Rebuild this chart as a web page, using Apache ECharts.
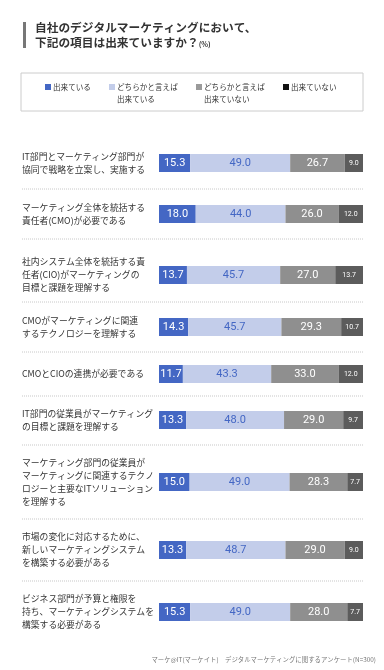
<!DOCTYPE html>
<html>
<head>
<meta charset="utf-8">
<style>
html, body { margin: 0; padding: 0; background: #fff; }
#chart { width: 384px; height: 670px; }
</style>
<script src="https://cdn.jsdelivr.net/npm/echarts@6/dist/echarts.min.js"></script>
</head>
<body>
<div id="chart"></div>
<script type="text/javascript">
// categories (row labels, top to bottom)
var categories = [
  'IT部門とマーケティング部門が\n協同で戦略を立案し、実施する',
  'マーケティング全体を統括する\n責任者(CMO)が必要である',
  '社内システム全体を統括する責\n任者(CIO)がマーケティングの\n目標と課題を理解する',
  'CMOがマーケティングに関連\nするテクノロジーを理解する',
  'CMOとCIOの連携が必要である',
  'IT部門の従業員がマーケティング\nの目標と課題を理解する',
  'マーケティング部門の従業員が\nマーケティングに関連するテクノ\nロジーと主要なITソリューション\nを理解する',
  '市場の変化に対応するために、\n新しいマーケティングシステム\nを構築する必要がある',
  'ビジネス部門が予算と権限を\n持ち、マーケティングシステムを\n構築する必要がある'
];
var seriesNames = ['出来ている', 'どちらかと言えば\n出来ている', 'どちらかと言えば\n出来ていない', '出来ていない'];
var done       = [15.3, 18.0, 13.7, 14.3, 11.7, 13.3, 15.0, 13.3, 15.3];
var ratherDone = [49.0, 44.0, 45.7, 45.7, 43.3, 48.0, 49.0, 48.7, 49.0];
var ratherNot  = [26.7, 26.0, 27.0, 29.3, 33.0, 29.0, 28.3, 29.0, 28.0];
var notDone    = [9.0, 12.0, 13.7, 10.7, 12.0, 9.7, 7.7, 9.0, 7.7];

// layout / style
var colors = ['#4467c4', '#c3cdea', '#8f8f8f', '#5c5c5c'];
var legendColors = ['#4467c4', '#c3cdea', '#9a9a9a', '#111111'];
var labelColors = ['#ffffff', '#4467c4', '#ffffff', '#ffffff'];
var labelSizes = [11, 11, 11, 7];
var rowCenters = [163, 214, 275, 327, 374, 420, 482, 550, 612];
var separators = [189, 239, 302, 352, 396, 445, 519, 581];
var barLeft = 159, barRight = 363, barH = 18;
var jp = '"Noto Sans CJK JP", "Noto Sans", sans-serif';

var values = [done, ratherDone, ratherNot, notDone];
var grids = [], xAxes = [], yAxes = [], series = [];

for (var i = 0; i < categories.length; i++) {
  grids.push({ left: barLeft, width: barRight - barLeft, top: rowCenters[i] - barH / 2, height: barH });
  xAxes.push({ gridIndex: i, type: 'value', min: 0, max: 100, show: false });
  yAxes.push({
    gridIndex: i, type: 'category', data: [categories[i]],
    axisLine: { show: false }, axisTick: { show: false },
    axisLabel: {
      align: 'left', margin: barLeft - 22, color: '#333',
      fontFamily: jp, fontSize: 8.8, lineHeight: 13
    }
  });
  for (var s = 0; s < 4; s++) {
    series.push({
      type: 'bar', name: seriesNames[s], stack: 'row' + i,
      xAxisIndex: i, yAxisIndex: i, barWidth: barH,
      data: [values[s][i]],
      itemStyle: { color: colors[s] },
      label: {
        show: true, position: 'inside', color: labelColors[s],
        fontFamily: 'Roboto, sans-serif', fontSize: labelSizes[s],
        formatter: function (p) { return p.value.toFixed(1); }
      },
      silent: true
    });
  }
}

var graphics = [];
// title
graphics.push({ type: 'rect', shape: { x: 23, y: 22, width: 3, height: 26 }, style: { fill: '#777' } });
graphics.push({
  type: 'text', x: 35, y: 28,
  style: { text: '自社のデジタルマーケティングにおいて、', fill: '#333', font: 'bold 11.7px ' + jp, verticalAlign: 'middle' }
});
graphics.push({
  type: 'text', x: 35, y: 43,
  style: {
    text: '{a|下記の項目は出来ていますか？}{b|(%)}', verticalAlign: 'middle',
    rich: {
      a: { fill: '#333', fontWeight: 'bold', fontSize: 11.7, fontFamily: jp },
      b: { fill: '#333', fontWeight: 'bold', fontSize: 7, fontFamily: jp, padding: [3, 0, 0, 0] }
    }
  }
});
// legend box
graphics.push({ type: 'rect', shape: { x: 21, y: 73, width: 342, height: 38 }, style: { fill: 'none', stroke: '#ccc', lineWidth: 1 } });
var legX = [45, 109, 196, 283];
for (var k = 0; k < seriesNames.length; k++) {
  graphics.push({ type: 'rect', shape: { x: legX[k], y: 84, width: 6, height: 6 }, style: { fill: legendColors[k] } });
  graphics.push({
    type: 'text', x: legX[k] + 8, y: 81,
    style: { text: seriesNames[k], fill: '#333', font: '7.6px ' + jp, lineHeight: 12, verticalAlign: 'top' }
  });
}
// dotted separators
for (var j = 0; j < separators.length; j++) {
  graphics.push({
    type: 'line', shape: { x1: 22, y1: separators[j], x2: barRight, y2: separators[j] },
    style: { stroke: '#c8c8c8', lineWidth: 1, lineDash: [1, 1] }
  });
}
// source
graphics.push({
  type: 'text', x: 376, y: 660,
  style: { text: 'マーケ@IT(マーケイト)　デジタルマーケティングに関するアンケート(N=300)', fill: '#777', font: '6.4px ' + jp, align: 'right', verticalAlign: 'middle' }
});

var myChart = echarts.init(document.getElementById('chart'));
var option = {
  backgroundColor: '#fff',
  animation: false,
  grid: grids,
  xAxis: xAxes,
  yAxis: yAxes,
  series: series,
  graphic: graphics
};
myChart.setOption(option);
</script>
</body>
</html>
